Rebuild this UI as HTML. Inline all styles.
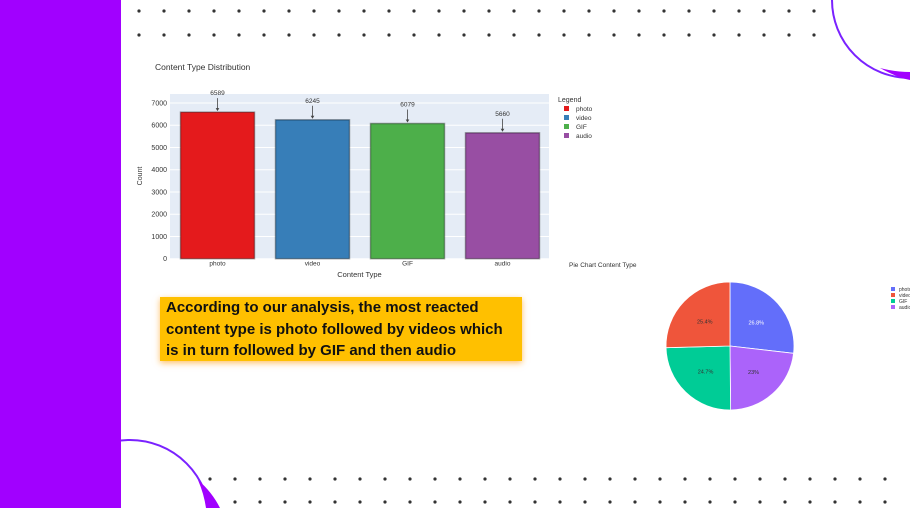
<!DOCTYPE html>
<html><head><meta charset="utf-8"><style>
body{margin:0;width:910px;height:508px;overflow:hidden;background:#fff;font-family:"Liberation Sans",sans-serif;position:relative}
#side{position:absolute;left:0;top:0;width:121px;height:508px;background:#a100ff;z-index:2}
#note{position:absolute;left:160px;top:297px;width:356px;height:64px;overflow:hidden;padding:0 0 0 6px;background:#ffc000;box-shadow:0 2px 6px rgba(255,150,0,.6);font-weight:bold;font-size:15px;line-height:21.5px;color:#111;white-space:nowrap}
svg{position:absolute;left:0;top:0}
</style></head><body>
<svg id="chart" width="910" height="508"></svg>
<div id="side"></div>
<div id="note">According to our analysis, the most reacted<br>content type is photo followed by videos which<br>is in turn followed by GIF and then audio</div>
<script>
const categories=["photo","video","GIF","audio"];
const counts=[6589,6245,6079,5660];
const barColors=["#e41a1c","#377eb8","#4daf4a","#984ea3"];
const yTicks=[0,1000,2000,3000,4000,5000,6000,7000];
const pieLabels=["photo","audio","GIF","video"];
const piePct=[26.8,23,24.7,25.4];
const pieText=["26.8%","23%","24.7%","25.4%"];
const pieColors=["#636efa","#ab63fa","#00cc96","#ef553b"];
const legendPie=["photo","video","GIF","audio"];
const legendPieColors=["#636efa","#ef553b","#00cc96","#ab63fa"];

const S=document.getElementById('chart');const NS="http://www.w3.org/2000/svg";
function mk(t,a,txt){const e=document.createElementNS(NS,t);for(const k in a)e.setAttribute(k,a[k]);if(txt!=null)e.textContent=txt;S.appendChild(e);return e;}
for(let r=0;r<2;r++){for(let i=0;i<28;i++){const x=139+25*i;if(x>825)break;const d=mk('circle',{cx:x,cy:11+24*r,r:1.6,fill:'#333'});}}
for(let r=0;r<2;r++){for(let i=0;i<28;i++){const x=210+25*i;if(x>905)break;const d=mk('circle',{cx:x,cy:479+23*r,r:1.6,fill:'#333'});}}
let c=mk('circle',{cx:910,cy:0,r:78,fill:'#fff',stroke:'#7a22ff','stroke-width':2});
c=mk('path',{d:'M880 68 Q898 78 910 80 L910 72 Q895 72 880 68Z',fill:'#a100ff'});
c=mk('circle',{cx:130,cy:520,r:80,fill:'none',stroke:'#7a22ff','stroke-width':2});
c=mk('path',{d:'M198 480 Q212 492 220 508 L206 508 Q204 494 198 480Z',fill:'#a100ff'});

const PL=170,PR=549,PT=94,PB=258.7,YMAX=7000,Y7=103;
const y=v=>PB-(PB-Y7)*v/YMAX;
const bw=95,x=i=>PL+bw*(i+0.5);
c=mk('text',{x:155,y:70,'font-size':8.5,fill:'#333'},'Content Type Distribution');
c=mk('rect',{x:PL,y:PT,width:PR-PL,height:PB-PT,fill:'#e5ecf6'});
yTicks.forEach(t=>{let g=mk('line',{x1:PL,x2:PR,y1:y(t),y2:y(t),stroke:'#fff','stroke-width':1});
 let l=mk('text',{x:PL-3,y:y(t)+2.5,'font-size':7,fill:'#333','text-anchor':'end'},t);});
categories.forEach((k,i)=>{
 let b=mk('rect',{x:x(i)-37,y:y(counts[i]),width:74,height:PB-y(counts[i]),fill:barColors[i],stroke:'rgba(0,0,0,0.35)','stroke-width':1.5});
 let t=mk('text',{x:x(i),y:PB+7,'font-size':6.5,fill:'#333','text-anchor':'middle'},k);
 let a=mk('line',{x1:x(i),x2:x(i),y1:y(counts[i])-14,y2:y(counts[i])-2,stroke:'#444','stroke-width':0.8});
 let h=mk('path',{d:`M${x(i)-1.8} ${y(counts[i])-4}L${x(i)+1.8} ${y(counts[i])-4}L${x(i)} ${y(counts[i])-1}Z`,fill:'#444'});
 let v=mk('text',{x:x(i),y:y(counts[i])-17,'font-size':6.5,fill:'#333','text-anchor':'middle'},counts[i]);
});
c=mk('text',{x:(PL+PR)/2,y:277,'font-size':7.5,fill:'#333','text-anchor':'middle'},'Content Type');
c=mk('text',{x:142,y:176,'font-size':7,fill:'#333','text-anchor':'middle',transform:'rotate(-90 142 176)'},'Count');
c=mk('text',{x:558,y:102,'font-size':7,fill:'#333'},'Legend');
categories.forEach((k,i)=>{let r=mk('rect',{x:564,y:106+9*i,width:5,height:5,fill:barColors[i]});
 let t=mk('text',{x:576,y:111+9*i,'font-size':6.5,fill:'#333'},k);});

const cx=730,cy=346,R=64;
c=mk('text',{x:569,y:267,'font-size':6.5,fill:'#333'},'Pie Chart Content Type');
const tot=piePct.reduce((a,b)=>a+b,0);let ang=0;
piePct.forEach((p,i)=>{const a0=ang,a1=ang+p/tot*2*Math.PI;ang=a1;
 const P=a=>[cx+R*Math.sin(a),cy-R*Math.cos(a)];const [x0,y0]=P(a0),[x1,y1]=P(a1);
 let s=mk('path',{d:`M${cx} ${cy}L${x0} ${y0}A${R} ${R} 0 ${a1-a0>Math.PI?1:0} 1 ${x1} ${y1}Z`,fill:pieColors[i],stroke:'#fff','stroke-width':0.8});
 const am=(a0+a1)/2;let t=mk('text',{x:cx+R*0.55*Math.sin(am),y:cy-R*0.55*Math.cos(am)+2,'font-size':5.5,fill:i==0?'#fff':'#333','text-anchor':'middle'},pieText[i]);});
legendPie.forEach((k,i)=>{let r=mk('rect',{x:891,y:287+6*i,width:4,height:4,fill:legendPieColors[i]});
 let t=mk('text',{x:899,y:291+6*i,'font-size':5,fill:'#333'},k);});
</script>
</body></html>
